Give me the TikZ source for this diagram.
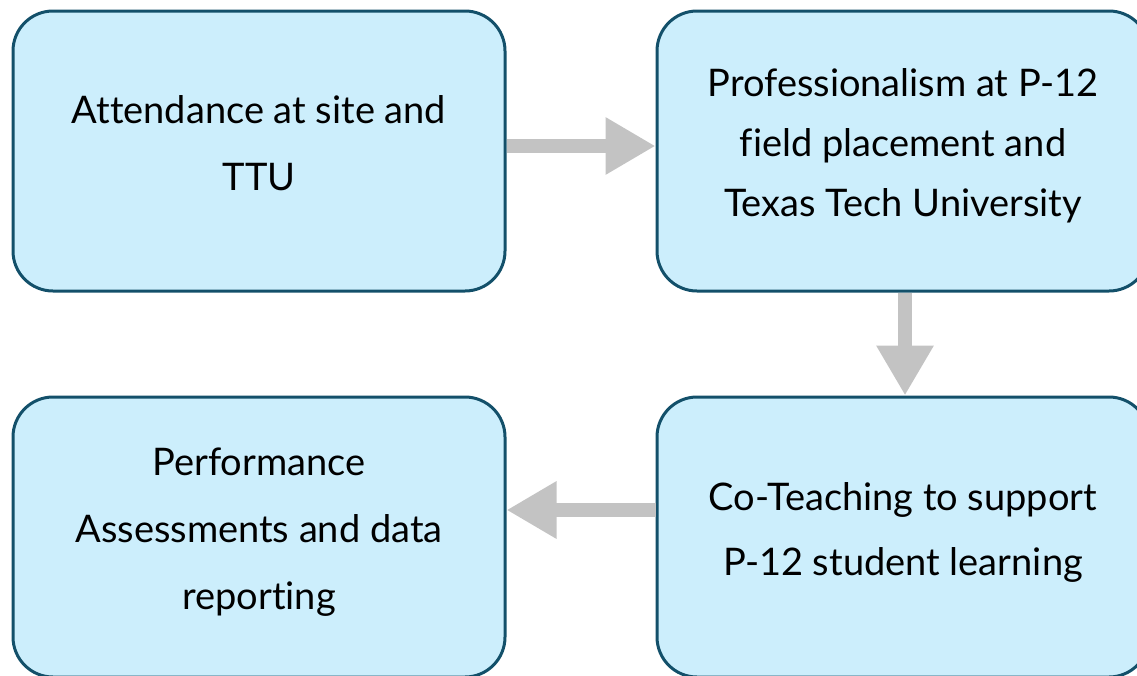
\documentclass[tikz,border=0pt]{standalone}
\usepackage{fontspec}
\setmainfont{Lato}[Ligatures={NoCommon}]
\usepackage{xcolor}
\usetikzlibrary{arrows.meta}
\definecolor{boxfill}{HTML}{CCEEFC}
\definecolor{boxline}{HTML}{13506A}
\definecolor{flowgray}{HTML}{C3C3C3}

\begin{document}
\begin{tikzpicture}[x=1pt,y=-1pt,
    step box/.style={draw=boxline,fill=boxfill,line width=3pt,rounded corners=40pt,
      minimum width=492pt,minimum height=280pt,align=center,text depth=16pt,
      font=\fontsize{38}{63}\selectfont},
    flow/.style={draw=flowgray,line width=14pt,
      -{Triangle[length=50pt,width=54pt]}} ]
    \useasboundingbox (0,0) rectangle (1137,675);
    \clip (0,0) rectangle (1137,675);
    \node [step box,font=\fontsize{38}{67}\selectfont] at (259,151) (att) {Attendance at site and\\TTU};
    \node [step box,font=\fontsize{38}{60}\selectfont] at (903,151) (prof) {Professionalism at P-12\\field placement and\\Texas Tech University};
    \node [step box,font=\fontsize{38}{65}\selectfont] at (903,537) (coteach) {Co-Teaching to support\\P-12 student learning};
    \node [step box,font=\fontsize{38}{67}\selectfont] at (259,537) (perf) {Performance\\Assessments and data\\reporting};
    \draw [flow] ([yshift=5pt]att.east) -- ([yshift=5pt]prof.west);
    \draw [flow] ([xshift=2pt]prof.south) -- ([xshift=2pt]coteach.north);
    \draw [flow] ([yshift=27pt]coteach.west) -- ([yshift=27pt]perf.east);
\end{tikzpicture}
\end{document}
